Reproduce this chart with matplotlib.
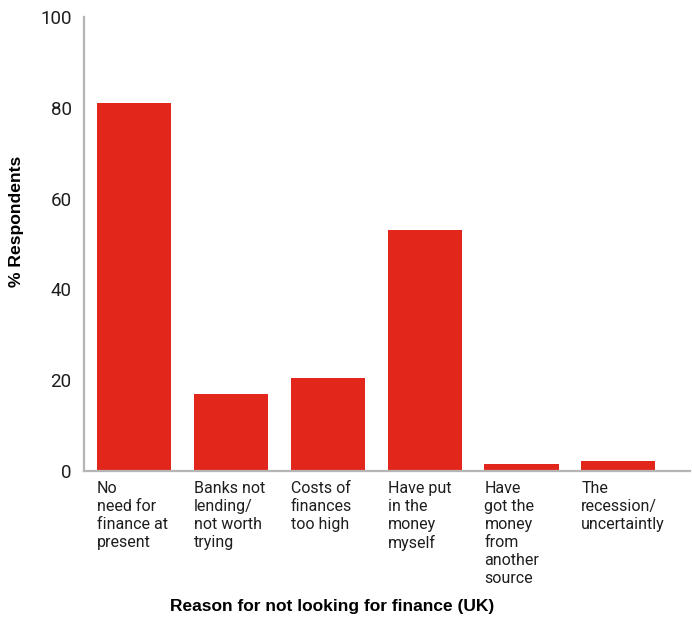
import numpy as np
import matplotlib
matplotlib.use('Agg')
import matplotlib.pyplot as plt

# survey results: share of respondents per reason
reasons = ["No\nneed for\nfinance at\npresent",
           "Banks not\nlending/\nnot worth\ntrying",
           "Costs of\nfinances\ntoo high",
           "Have put\nin the\nmoney\nmyself",
           "Have\ngot the\nmoney\nfrom\nanother\nsource",
           "The\nrecession/\nuncertaintly"]
pct = [81, 17, 20.5, 53, 1.5, 2.2]
yticks = [0, 20, 40, 60, 80, 100]

plt.rcParams['font.family'] = ['Liberation Sans', 'DejaVu Sans']
tick_font = ['Roboto', 'Liberation Sans', 'DejaVu Sans']

fig = plt.figure(figsize=(6.92, 6.21), dpi=100)
ax = fig.add_axes([84/692, 1 - 471/621, 606/692, 454/621])

x = np.arange(len(pct))
width = 0.765
ax.bar(x, pct, width=width, color='#e3261b', zorder=2)

ax.set_xlim(-0.517, 5.74)
ax.set_ylim(0, 100)

# labels sit left-aligned under each bar's left edge
ax.set_xticks(x - width / 2)
ax.set_xticklabels(reasons, ha='left', va='top', fontsize=11.5, color='#1e1e1e',
                   linespacing=1.25, family=tick_font)
ax.set_yticks(yticks)
ax.set_yticklabels([str(t) for t in yticks], fontsize=13.5, color='#1e1e1e',
                   family=tick_font)
ax.tick_params(axis='both', length=0)
ax.tick_params(axis='x', pad=7)
ax.tick_params(axis='y', pad=9)

for side in ['top', 'right']:
    ax.spines[side].set_visible(False)
for side in ['left', 'bottom']:
    ax.spines[side].set_color('#b5b5b5')
    ax.spines[side].set_linewidth(1.6)

fig.text(17/692, 1 - 221/621, "% Respondents", rotation=90, ha='center', va='center',
         fontsize=12.6, fontweight='bold')
fig.text(332/692, 1 - 607/621, "Reason for not looking for finance (UK)",
         ha='center', va='center', fontsize=12.5, fontweight='bold')

fig.savefig('out.png', dpi=100)
plt.close(fig)
